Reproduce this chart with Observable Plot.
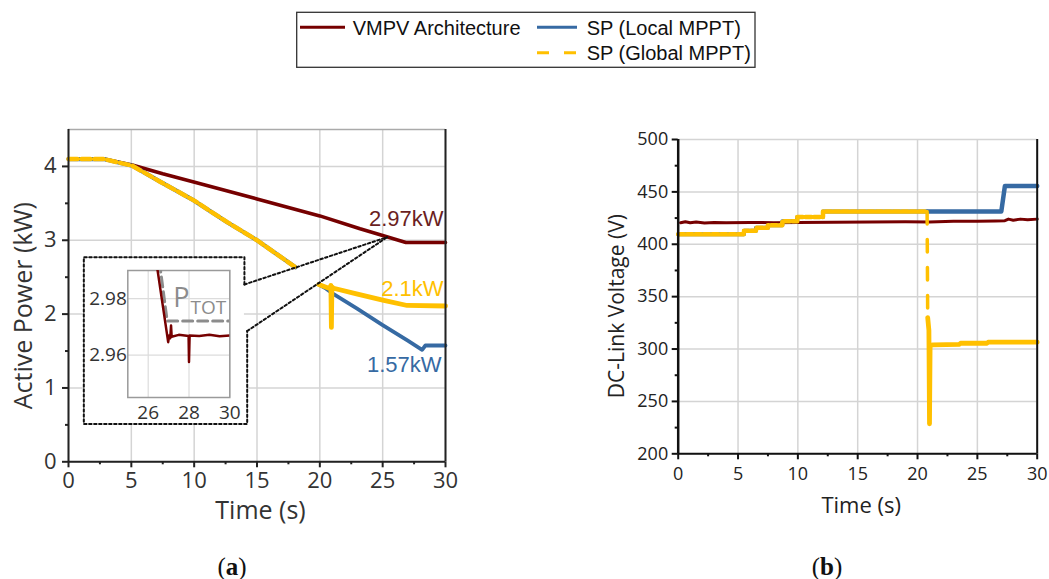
<!DOCTYPE html>
<html><head><meta charset="utf-8">
<script src="https://cdn.jsdelivr.net/npm/d3@7"></script>
<script src="https://cdn.jsdelivr.net/npm/@observablehq/plot@0.6"></script>
<style>
html,body{margin:0;padding:0;background:#fff}
body{width:1049px;height:579px;position:relative;overflow:hidden;font-family:"Open Sans",sans-serif}
.abs{position:absolute}
.cap{font-family:"Liberation Serif",serif;font-size:25px;color:#111;text-align:center;width:60px;line-height:28px}
</style></head><body>
<div id="legend" class="abs" style="left:295px;top:11px"></div>
<div id="pa" class="abs" style="left:0;top:100px"></div>
<div id="inset" class="abs" style="left:80px;top:262px"></div>
<div id="pb" class="abs" style="left:580px;top:100px"></div>
<div class="abs cap" style="left:202px;top:553px">(<b>a</b>)</div>
<div class="abs cap" style="left:797px;top:553px">(<b>b</b>)</div>
<script>
// ---------- data ----------
const seriesNames = ["VMPV Architecture", "SP (Local MPPT)", "SP (Global MPPT)"];
const timeTicks = [0, 5, 10, 15, 20, 25, 30];
const timeMinor = [2.5, 7.5, 12.5, 17.5, 22.5, 27.5];
const powerTicks = [0, 1, 2, 3, 4];
const powerMinor = [0.5, 1.5, 2.5, 3.5];
const voltTicks = [200, 250, 300, 350, 400, 450, 500];
const voltMinor = [225, 275, 325, 375, 425, 475];
const insetTimeTicks = [26, 28, 30];
const insetPowerTicks = [2.96, 2.98];

// Panel (a): active power (kW) vs time (s)
const vmpvPower = [[0,4.1],[2.8,4.1],[5.07,4.02],[7.5,3.9],[9.97,3.79],[15,3.56],[20,3.33],[23.2,3.155],[25,3.065],[26.85,2.97],[30,2.97]];
const spSharedPower = [[0,4.1],[2.8,4.1],[5.07,4.01],[7.32,3.79],[9.97,3.54],[12.63,3.245],[15,3.0],[18.06,2.635]];
const spLocalPowerLate = [[19.92,2.40],[20.5,2.345],[21.1,2.27],[23,2.07],[25,1.85],[27,1.64],[28.14,1.517],[28.4,1.575],[30,1.575]];
const spGlobalPowerLate = [[19.92,2.40],[20.5,2.365],[20.85,2.343],[20.88,2.39],[20.92,1.82],[20.96,2.37],[21.1,2.35],[23,2.27],[25,2.19],[26.95,2.117],[30,2.11]];
const finalPowerLabels = ["2.97kW", "2.1kW", "1.57kW"];
const finalPowerValues = [2.97, 2.1, 1.57];

// Inset (zoom of VMPV around t = 25..30 s)
const insetVmpv = [[26.4,2.993],[26.98,2.9646],[27.03,2.967],[27.08,2.966],[27.12,2.9705],[27.15,2.9665],[27.5,2.9672],[27.98,2.9668],[28.0,2.9576],[28.03,2.967],[28.5,2.9668],[29,2.9672],[29.5,2.9667],[30,2.967]];
const insetPtot = [[26.55,2.993],[26.93,2.9721],[30,2.9721]];
const calloutOutline = [[14.0,2.401],[14.0,2.771],[1.22,2.771],[1.22,0.512],[14.22,0.512],[14.22,1.771]];
const calloutTarget = [25.36, 3.042];

// Panel (b): DC-link voltage (V) vs time (s)
const vmpvVolt = [[0.2,420.5],[0.6,421.5],[1.0,420.5],[1.5,421.2],[2.2,420.3],[3,420.8],[4,420.5],[6,420.8],[8,420.6],[10,420.8],[13,421],[16,421.2],[19,421.5],[21,421.3],[23,422],[25,422],[26.5,422.2],[27.3,422.5],[27.6,424],[28,423],[28.6,424],[29.2,423.5],[30,424]];
const spSharedVolt = [[0,409.5],[5.5,409.5],[5.5,413],[6.5,413],[6.5,415.7],[7.5,415.7],[7.5,418.2],[8.7,418.2],[8.7,422],[9.95,422],[9.95,426],[12.1,426],[12.1,431.3],[20.8,431.3]];
const spLocalVoltLate = [[20.8,431.3],[27.0,431.3],[27.3,455.5],[30,455.5]];
const spGlobalVoltDrop = [[20.8,431.3],[20.85,330]];
const spGlobalVoltLate = [[20.85,330],[20.95,318],[21.0,228.6],[21.05,303.5],[21.3,304],[23.5,304.5],[23.6,305.5],[25.8,305.5],[25.9,306.5],[30,306.5]];

// ---------- styles ----------
const C = {red: "#760000", blue: "#366AA3", yellow: "#FFC000", grid: "#d4d4d4", axis: "#222", tick: "#333"};
const rows = (pairs) => pairs.map(([t, v]) => ({t, v}));
const plain = d => String(d);

// ---------- legend ----------
{
  const svg = d3.select("#legend").append("svg").attr("width", 464).attr("height", 60);
  svg.append("rect").attr("x", 1.7).attr("y", 1.3).attr("width", 458.3).attr("height", 55)
    .attr("fill", "none").attr("stroke", "#333").attr("stroke-width", 1.3);
  const items = [
    {x: 5, y: 16.3, color: C.red, dash: null, w: 3},
    {x: 242, y: 16.3, color: C.blue, dash: null, w: 3},
    {x: 242, y: 41.7, color: C.yellow, dash: "12,15", w: 3}
  ];
  items.forEach((it, i) => {
    svg.append("line").attr("x1", it.x).attr("x2", it.x + (i === 0 ? 45 : 40)).attr("y1", it.y).attr("y2", it.y)
      .attr("stroke", it.color).attr("stroke-width", it.w).attr("stroke-dasharray", it.dash);
    svg.append("text").attr("x", it.x + (i === 0 ? 52.7 : 49.7)).attr("y", it.y + 7.3)
      .attr("font-family", "Liberation Sans, Arial, sans-serif").attr("font-size", 20).attr("fill", "#111")
      .text(seriesNames[i]);
  });
}

// ---------- panel (a) ----------
const pa = Plot.plot({
  width: 460, height: 440,
  marginLeft: 68, marginRight: 15, marginTop: 29, marginBottom: 78.7,
  x: {domain: [0, 30], label: null},
  y: {domain: [0, 4.5], label: null},
  style: {fontFamily: "Open Sans, sans-serif", background: "transparent", overflow: "visible"},
  marks: [
    Plot.gridX(timeTicks, {stroke: C.grid, strokeOpacity: 1, strokeWidth: 1.5}),
    Plot.gridY(powerTicks, {stroke: C.grid, strokeOpacity: 1, strokeWidth: 1.5}),
    Plot.ruleY([4.5], {stroke: "#aaa", strokeWidth: 1.5}),
    Plot.line(rows(vmpvPower), {x: "t", y: "v", stroke: C.red, strokeWidth: 3.6}),
    Plot.line(rows(spSharedPower), {x: "t", y: "v", stroke: C.blue, strokeWidth: 4.2}),
    Plot.line(rows(spLocalPowerLate), {x: "t", y: "v", stroke: C.blue, strokeWidth: 3.8}),
    Plot.line(rows(spSharedPower), {x: "t", y: "v", stroke: C.yellow, strokeWidth: 4.5, strokeDasharray: "9,4"}),
    Plot.line(rows(spGlobalPowerLate), {x: "t", y: "v", stroke: C.yellow, strokeWidth: 4.8}),
    Plot.text([0], {x: () => 30, y: () => finalPowerValues[0], text: () => finalPowerLabels[0], dx: -2, dy: -23.7, textAnchor: "end", fill: "#6b1f1f", fontSize: 22, fontFamily: "Liberation Sans, Arial, sans-serif"}),
    Plot.text([1], {x: () => 30, y: () => finalPowerValues[1], text: () => finalPowerLabels[1], dx: -2, dy: -18, textAnchor: "end", fill: C.yellow, fontSize: 22, fontFamily: "Liberation Sans, Arial, sans-serif"}),
    Plot.text([2], {x: () => 30, y: () => finalPowerValues[2], text: () => finalPowerLabels[2], dx: -4, dy: 19, textAnchor: "end", fill: C.blue, fontSize: 22, fontFamily: "Liberation Sans, Arial, sans-serif"}),
    // callout box (white, dotted) and connectors
    Plot.rect([0], {x1: () => calloutOutline[2][0], x2: () => calloutOutline[0][0], y1: () => calloutOutline[3][1], y2: () => calloutOutline[1][1], fill: "white"}),
    Plot.rect([0], {x1: () => calloutOutline[1][0], x2: () => calloutOutline[4][0], y1: () => calloutOutline[3][1], y2: () => calloutOutline[5][1], fill: "white"}),
    Plot.line(calloutOutline, {x: d => d[0], y: d => d[1], stroke: "#111", strokeWidth: 2, strokeDasharray: "2.5,2.5"}),
    Plot.line([calloutOutline[0], calloutTarget], {x: d => d[0], y: d => d[1], stroke: "#111", strokeWidth: 2, strokeDasharray: "2.5,2.5"}),
    Plot.line([calloutOutline[5], calloutTarget], {x: d => d[0], y: d => d[1], stroke: "#111", strokeWidth: 2, strokeDasharray: "2.5,2.5"}),
    // frame lines
    Plot.ruleX([30], {stroke: C.axis, strokeWidth: 2}),
    Plot.ruleX([0], {stroke: C.axis, strokeWidth: 2}),
    Plot.ruleY([0], {stroke: C.axis, strokeWidth: 2}),
    // axes
    Plot.axisX(timeTicks, {anchor: "bottom", tickSize: 6, tickPadding: 5, fontSize: 22, tickFormat: plain, fill: C.tick, stroke: C.axis, strokeWidth: 2}),
    Plot.axisX(timeMinor, {anchor: "bottom", tickSize: 3, tickFormat: () => "", stroke: C.axis, strokeWidth: 2}),
    Plot.axisY(powerTicks, {anchor: "left", tickSize: 6, tickPadding: 6, fontSize: 22, tickFormat: plain, fill: C.tick, stroke: C.axis, strokeWidth: 2}),
    Plot.axisY(powerMinor, {anchor: "left", tickSize: 3, tickFormat: () => "", stroke: C.axis, strokeWidth: 2}),
    Plot.text(["Time (s)"], {text: d => d, frameAnchor: "bottom", textAnchor: "middle", lineAnchor: "middle", dy: 48.7, dx: 3.5, fontSize: 25, fill: C.tick}),
    Plot.text(["Active Power (kW)"], {text: d => d, frameAnchor: "left", textAnchor: "middle", lineAnchor: "middle", rotate: -90, dx: -44.7, dy: 10, fontSize: 25, fill: C.tick})
  ]
});
document.getElementById("pa").append(pa);

// ---------- inset ----------
const inset = Plot.plot({
  width: 165, height: 160,
  marginLeft: 47.3, marginRight: 15.7, marginTop: 8, marginBottom: 25,
  x: {domain: [25, 30], label: null},
  y: {domain: [2.945, 2.99], label: null},
  style: {fontFamily: "Open Sans, sans-serif", background: "transparent", overflow: "visible"},
  marks: [
    Plot.gridX(insetTimeTicks, {stroke: "#dcdcdc", strokeOpacity: 1, strokeWidth: 1.2}),
    Plot.gridY(insetPowerTicks, {stroke: "#dcdcdc", strokeOpacity: 1, strokeWidth: 1.2}),
    Plot.frame({stroke: "#9a9a9a", strokeWidth: 1.5}),
    Plot.line(rows(insetPtot), {x: "t", y: "v", stroke: "#8c8c8c", strokeWidth: 3, strokeDasharray: "10,5", clip: true}),
    Plot.line(rows(insetVmpv), {x: "t", y: "v", stroke: C.red, strokeWidth: 2.5, clip: true}),
    Plot.text(["P"], {text: d => d, x: () => 27.23, y: () => 2.9802, textAnchor: "start", fontSize: 27, fill: "#8c8c8c"}),
    Plot.text(["TOT"], {text: d => d, x: () => 28.07, y: () => 2.9769, textAnchor: "start", fontSize: 19, fill: "#8c8c8c"}),
    Plot.axisX(insetTimeTicks, {anchor: "bottom", tickSize: 0, tickPadding: 8, fontSize: 19, tickFormat: plain, fill: C.tick}),
    Plot.axisY(insetPowerTicks, {anchor: "left", tickSize: 0, tickPadding: 1, fontSize: 19, tickFormat: d => d.toFixed(2), fill: C.tick})
  ]
});
document.getElementById("inset").append(inset);

// ---------- panel (b) ----------
const pb = Plot.plot({
  width: 469, height: 440,
  marginLeft: 97.7, marginRight: 12.3, marginTop: 39, marginBottom: 86.7,
  x: {domain: [0, 30], label: null},
  y: {domain: [200, 500], label: null},
  style: {fontFamily: "Open Sans, sans-serif", background: "transparent", overflow: "visible"},
  marks: [
    Plot.gridX(timeTicks, {stroke: C.grid, strokeOpacity: 1, strokeWidth: 1.5}),
    Plot.gridY(voltTicks, {stroke: C.grid, strokeOpacity: 1, strokeWidth: 1.5}),
    Plot.line(rows(vmpvVolt), {x: "t", y: "v", stroke: C.red, strokeWidth: 3}),
    Plot.line(rows(spSharedVolt), {x: "t", y: "v", stroke: C.blue, strokeWidth: 4}),
    Plot.line(rows(spLocalVoltLate), {x: "t", y: "v", stroke: C.blue, strokeWidth: 4.5}),
    Plot.line(rows(spSharedVolt), {x: "t", y: "v", stroke: C.yellow, strokeWidth: 4.5, strokeDasharray: "6,2.5"}),
    Plot.line(rows(spGlobalVoltDrop), {x: "t", y: "v", stroke: C.yellow, strokeWidth: 3.5, strokeDasharray: "12.5,15.5"}),
    Plot.line(rows(spGlobalVoltLate), {x: "t", y: "v", stroke: C.yellow, strokeWidth: 4.8}),
    Plot.ruleX([30], {stroke: "#111", strokeWidth: 2}),
    Plot.ruleX([0], {stroke: "#111", strokeWidth: 2.5}),
    Plot.ruleY([200], {stroke: "#111", strokeWidth: 2}),
    Plot.axisX(timeTicks, {anchor: "bottom", tickSize: 6, tickPadding: 7, fontSize: 18, tickFormat: plain, fill: "#222", stroke: "#111", strokeWidth: 2}),
    Plot.axisX(timeMinor, {anchor: "bottom", tickSize: 3, tickFormat: () => "", stroke: "#111", strokeWidth: 2}),
    Plot.axisY(voltTicks, {anchor: "left", tickSize: 6, tickPadding: 4, fontSize: 18, tickFormat: plain, fill: "#222", stroke: "#111", strokeWidth: 2}),
    Plot.axisY(voltMinor, {anchor: "left", tickSize: 3, tickFormat: () => "", stroke: "#111", strokeWidth: 2}),
    Plot.text(["Time (s)"], {text: d => d, frameAnchor: "bottom", textAnchor: "middle", lineAnchor: "middle", dy: 51.7, dx: 3.5, fontSize: 22, fill: "#222"}),
    Plot.text(["DC-Link Voltage (V)"], {text: d => d, frameAnchor: "left", textAnchor: "middle", lineAnchor: "middle", rotate: -90, dx: -60.7, dy: 9.5, fontSize: 21, fill: "#222"})
  ]
});
document.getElementById("pb").append(pb);
</script>
</body></html>
